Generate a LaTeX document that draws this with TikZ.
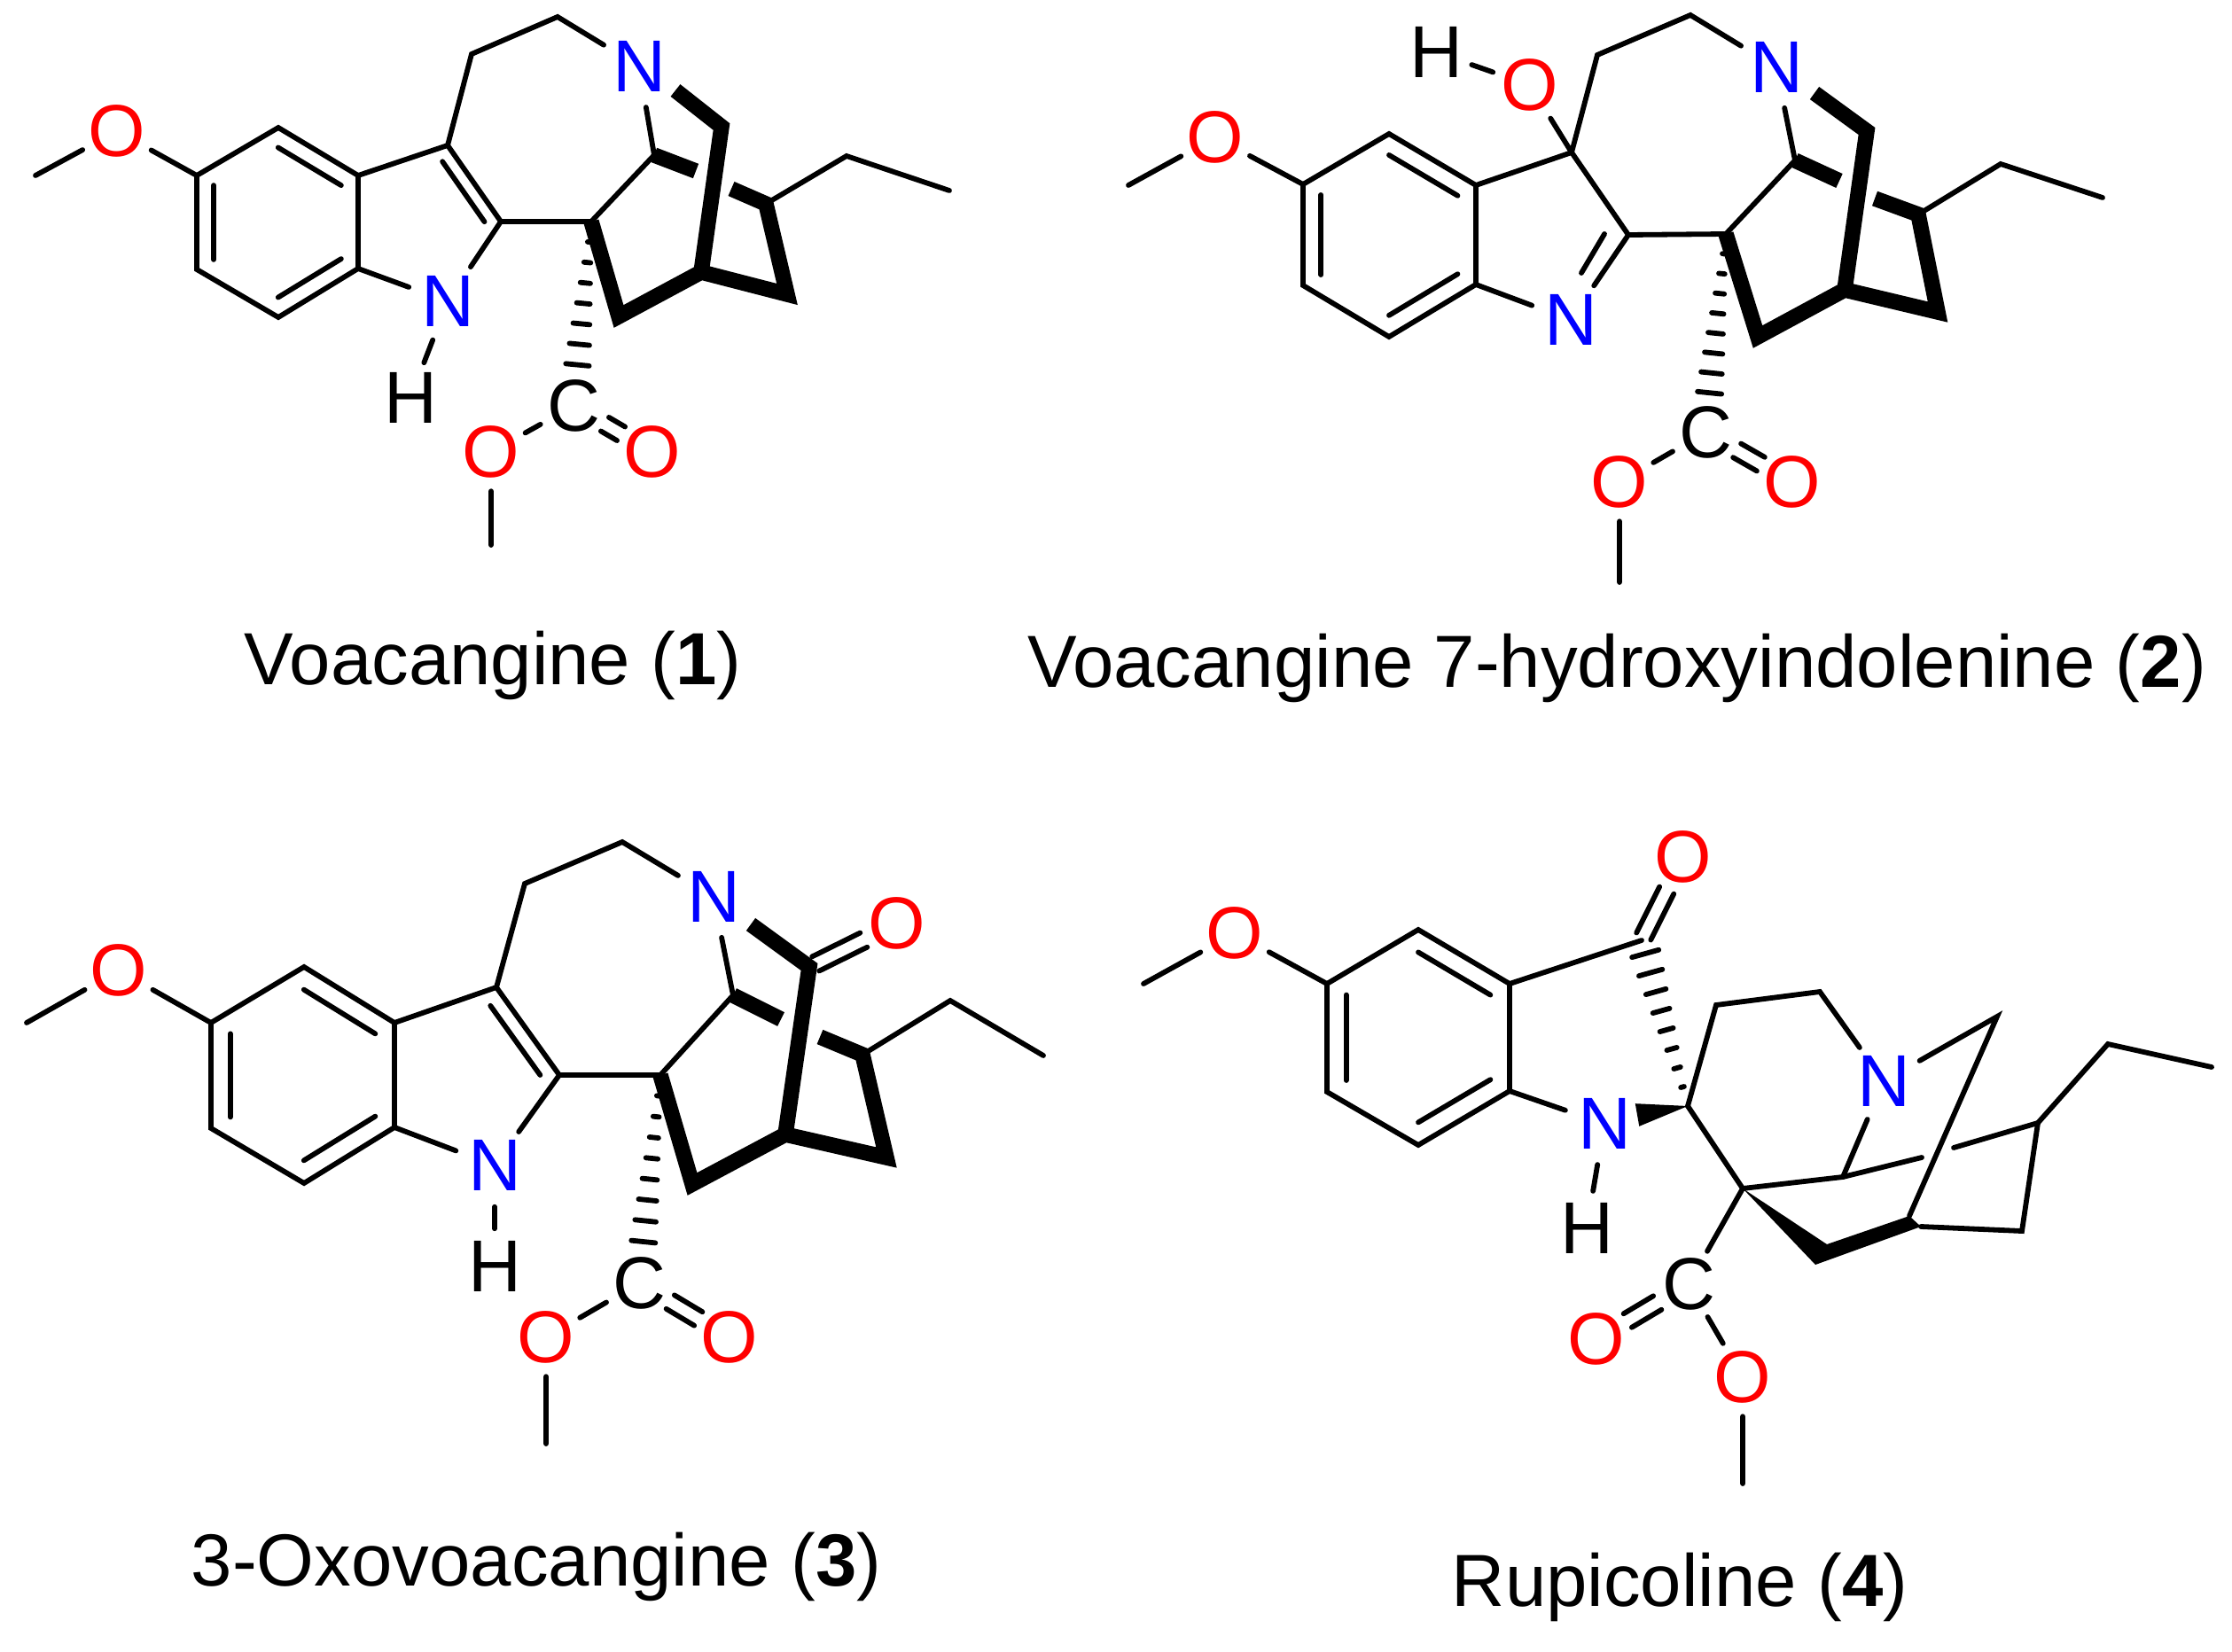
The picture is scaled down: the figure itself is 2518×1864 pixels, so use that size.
\documentclass[tikz,border=0pt]{standalone}
\usepackage{fontspec}
\setmainfont{Liberation Sans}
\usetikzlibrary{calc}
\tikzstyle{bond}=[
        line width = 0.058cm,
        line cap = round,
        line join = miter
    ]
\tikzstyle{bold bond}=[
    line width = 0.175cm,
    line cap = butt,
    line join = miter,
    miter limit = 20
]
\tikzstyle{atom}=[
    circle,
    inner sep = 0pt,
    font = \fontsize{23.6}{28}\selectfont
]
\tikzstyle{red atom}=[atom, text = red, minimum size = 0.84cm]
\tikzstyle{blue atom}=[atom, text = blue, minimum size = 0.92cm]
\tikzstyle{black atom}=[atom, text = black, minimum size = 0.84cm]
\tikzstyle{caption}=[
    anchor = base,
    inner sep = 0pt,
    font = \fontsize{23.7}{28}\selectfont
]
\newcommand{\innerbond}[3]{\draw[bond] ($(#1)!0.79!(#2)$) -- ($(#1)!0.79!(#3)$);}
\newcommand{\dblbond}[2]{
    \draw[bond, shorten <=0.41cm, shorten >=0.41cm] ($(#1)!0.09cm!90:(#2)$) -- ($(#2)!0.09cm!-90:(#1)$);
    \draw[bond, shorten <=0.41cm, shorten >=0.41cm] ($(#1)!0.09cm!-90:(#2)$) -- ($(#2)!0.09cm!90:(#1)$);
}
\newcommand{\wedgebond}[3]{\fill (#1) -- ($(#2)!#3!90:(#1)$) -- ($(#2)!#3!-90:(#1)$) -- cycle;}
\newcommand{\hashbond}[4]{
    \foreach \k in {1,...,#3} {
        \draw[bond] ($(#1)!{\k*#4}!(#2)!{\k*#4*0.17cm}!90:(#2)$) -- ($(#1)!{\k*#4}!(#2)!{\k*#4*0.17cm}!-90:(#2)$);
    }
}

\begin{document}
\begin{tikzpicture}[x=0.01cm, y=-0.01cm]
    \useasboundingbox (0,0) rectangle (2518,1864);

    % Voacangine
    \begin{scope}[name prefix=v-]
        \node[red atom] (o) at (132,148) {O};
        \node[blue atom] (n) at (505,340) {N};
        \node[black atom] (h) at (463,449) {H};
        \node[blue atom] (n2) at (721,75) {N};
        \node[black atom] (c) at (647,458) {C};
        \node[red atom] (o1) at (554,510) {O};
        \node[red atom] (o2) at (736,510) {O};
        \foreach \name/\pos in {me/{40,198}, a1/{222,198}, a2/{314,144}, a3/{404,198}, a4/{404,303},
            a5/{314,358}, a6/{222,304}, ring/{313,251}, five/{477,251}, c3/{505,164}, c2/{565,250},
            c5/{532,61}, c6/{629,19}, c21/{738,175}, c14/{667,250}, me2/{554,615}, low/{698,357},
            j/{791,307}, r/{888,332}, e/{864,230}, et1/{955,176}, et2/{1071,215}, top/{814,143},
            nb/{762,102}, g1/{785,193}, g2/{825,213}}
            \coordinate (\name) at (\pos);

        \draw[bond] (me) -- (o) -- (a1);
        \draw[bond] (a1) -- (a2) -- (a3) -- (a4) -- (a5) -- (a6) -- cycle;
        \draw[bond] (a3) -- (c3) -- (c2) -- (n) -- (a4);
        \draw[bond] (n) -- (h);
        \draw[bond] (c3) -- (c5) -- (c6) -- (n2) -- (c21) -- (c14) -- (c2);
        \draw[bond] (c) -- (o1) -- (me2);
        \draw[bond] (e) -- (et1) -- (et2);
        \innerbond{ring}{a1}{a6}
        \innerbond{ring}{a2}{a3}
        \innerbond{ring}{a4}{a5}
        \innerbond{five}{c3}{c2}
        \dblbond{c}{o2}
        \hashbond{c14}{c}{7}{0.111}
        \draw[bold bond] (c14) -- (low) -- (j) -- (r) -- (e) -- (g2);
        \draw[bold bond] (nb) -- (top) -- (j);
        \draw[bold bond] (c21) -- (g1);
        \node[caption] (name) at (556,772) {Voacangine (\textbf{1})};
    \end{scope}

    % Voacangine 7-hydroxyindolenine
    \begin{scope}[name prefix=h-]
        \node[red atom] (o) at (1371,155) {O};
        \node[blue atom] (n) at (1772,361) {N};
        \node[red atom] (oh) at (1726,96) {O};
        \node[black atom] (h) at (1620,59) {H};
        \node[blue atom] (n2) at (2004,76) {N};
        \node[black atom] (c) at (1924,488) {C};
        \node[red atom] (o1) at (1827,544) {O};
        \node[red atom] (o2) at (2022,544) {O};
        \foreach \name/\pos in {me/{1273,209}, a1/{1470,208}, a2/{1567,151}, a3/{1665,209}, a4/{1665,321},
            a5/{1567,380}, a6/{1470,322}, ring/{1567,265}, c7/{1773,172}, c2/{1837,265},
            db1/{1810,264}, db2/{1784,308}, c5/{1802,62}, c6/{1907,17}, c21/{2025,181}, c14/{1947,264},
            me2/{1827,657}, low/{1983,380}, j/{2081,327}, r/{2186,352}, e/{2164,242}, et1/{2257,185},
            et2/{2372,223}, top/{2106,148}, nb/{2047,105}, g1/{2075,204}, g2/{2115,224}}
            \coordinate (\name) at (\pos);

        \draw[bond] (me) -- (o) -- (a1);
        \draw[bond] (a1) -- (a2) -- (a3) -- (a4) -- (a5) -- (a6) -- cycle;
        \draw[bond] (a3) -- (c7) -- (c2) -- (n) -- (a4);
        \draw[bond] (db1) -- (db2);
        \draw[bond] (c7) -- (oh) -- (h);
        \draw[bond] (c7) -- (c5) -- (c6) -- (n2) -- (c21) -- (c14) -- (c2);
        \draw[bond] (c) -- (o1) -- (me2);
        \draw[bond] (e) -- (et1) -- (et2);
        \innerbond{ring}{a1}{a6}
        \innerbond{ring}{a2}{a3}
        \innerbond{ring}{a4}{a5}
        \dblbond{c}{o2}
        \hashbond{c14}{c}{8}{0.1}
        \draw[bold bond] (c14) -- (low) -- (j) -- (r) -- (e) -- (g2);
        \draw[bold bond] (nb) -- (top) -- (j);
        \draw[bold bond] (c21) -- (g1);
        \node[caption] (name) at (1824,775) {Voacangine 7-hydroxyindolenine (\textbf{2})};
    \end{scope}

    % 3-Oxovoacangine
    \begin{scope}[name prefix=x-]
        \node[red atom] (o) at (134,1095) {O};
        \node[blue atom] (n) at (558,1315) {N};
        \node[black atom] (h) at (558,1429) {H};
        \node[blue atom] (n2) at (805,1012) {N};
        \node[red atom] (o3) at (1012,1042) {O};
        \node[black atom] (c) at (721,1448) {C};
        \node[red atom] (o1) at (616,1509) {O};
        \node[red atom] (o2) at (823,1509) {O};
        \foreach \name/\pos in {me/{30,1154}, a1/{238,1154}, a2/{343,1091}, a3/{445,1154}, a4/{445,1272},
            a5/{343,1335}, a6/{238,1273}, ring/{342,1213}, five/{528,1213}, c3/{560,1114}, c2/{631,1213},
            c5/{592,997}, c6/{702,950}, c21/{827,1123}, c14/{745,1213}, me2/{616,1629}, low/{781,1336},
            j/{886,1280}, r/{1000,1306}, e/{973,1190}, et1/{1072,1129}, et2/{1177,1191}, top/{913,1091},
            nb/{847,1043}, g1/{881,1150}, g2/{925,1170}}
            \coordinate (\name) at (\pos);

        \draw[bond] (me) -- (o) -- (a1);
        \draw[bond] (a1) -- (a2) -- (a3) -- (a4) -- (a5) -- (a6) -- cycle;
        \draw[bond] (a3) -- (c3) -- (c2) -- (n) -- (a4);
        \draw[bond] (n) -- (h);
        \draw[bond] (c3) -- (c5) -- (c6) -- (n2) -- (c21) -- (c14) -- (c2);
        \draw[bond] (c) -- (o1) -- (me2);
        \draw[bond] (e) -- (et1) -- (et2);
        \innerbond{ring}{a1}{a6}
        \innerbond{ring}{a2}{a3}
        \innerbond{ring}{a4}{a5}
        \innerbond{five}{c3}{c2}
        \dblbond{c}{o2}
        \hashbond{c14}{c}{8}{0.1}
        \draw[bond, shorten <=0.08cm, shorten >=0.42cm] ($(top)!0.09cm!90:(o3)$) -- ($(o3)!0.09cm!-90:(top)$);
        \draw[bond, shorten <=0.08cm, shorten >=0.42cm] ($(top)!0.09cm!-90:(o3)$) -- ($(o3)!0.09cm!90:(top)$);
        \draw[bold bond] (c14) -- (low) -- (j) -- (r) -- (e) -- (g2);
        \draw[bold bond] (nb) -- (top) -- (j);
        \draw[bold bond] (c21) -- (g1);
        \node[caption] (name) at (605,1789) {3-Oxovoacangine (\textbf{3})};
    \end{scope}

    % Rupicoline
    \begin{scope}[name prefix=r-]
        \node[red atom] (o) at (1393,1053) {O};
        \node[red atom] (o3) at (1899,967) {O};
        \node[blue atom] (n) at (1810,1268) {N};
        \node[black atom] (h) at (1790,1386) {H};
        \node[blue atom] (n2) at (2125,1220) {N};
        \node[black atom] (c) at (1905,1449) {C};
        \node[red atom] (o1) at (1801,1511) {O};
        \node[red atom] (o2) at (1966,1554) {O};
        \foreach \name/\pos in {me/{1290,1110}, a1/{1497,1110}, a2/{1600,1049}, a3/{1703,1110}, a4/{1703,1231},
            a5/{1600,1292}, a6/{1497,1232}, ring/{1600,1170}, ket/{1852,1061}, spiro/{1904,1248},
            nw/{1847,1258}, c5/{1936,1134}, c6/{2053,1119}, cq/{1966,1341}, cm/{2079,1328}, g1/{2168,1306},
            g2/{2204,1295}, cy/{2299,1267}, et1/{2378,1178}, et2/{2495,1204}, cz/{2281,1389},
            br/{2253,1147}, j/{2154,1372}, j2/{2167,1384}, vo/{2048,1427}, vi/{2061,1404}, me2/{1966,1674}}
            \coordinate (\name) at (\pos);

        \draw[bond] (me) -- (o) -- (a1);
        \draw[bond] (a1) -- (a2) -- (a3) -- (a4) -- (a5) -- (a6) -- cycle;
        \draw[bond] (a3) -- (ket);
        \draw[bond] (a4) -- (n) -- (h);
        \draw[bond] (spiro) -- (c5) -- (c6) -- (n2) -- (br) -- (j);
        \draw[bond] (spiro) -- (cq) -- (cm) -- (g1);
        \draw[bond] (n2) -- (cm);
        \draw[bond] (g2) -- (cy) -- (cz) -- (j2);
        \draw[bond] (cy) -- (et1) -- (et2);
        \draw[bond] (cq) -- (c);
        \draw[bond] (c) -- (o2) -- (me2);
        \innerbond{ring}{a1}{a6}
        \innerbond{ring}{a2}{a3}
        \innerbond{ring}{a4}{a5}
        \dblbond{c}{o1}
        \draw[bond, shorten <=0.05cm, shorten >=0.42cm] ($(ket)!0.09cm!90:(o3)$) -- ($(o3)!0.09cm!-90:(ket)$);
        \draw[bond, shorten <=0.05cm, shorten >=0.42cm] ($(ket)!0.09cm!-90:(o3)$) -- ($(o3)!0.09cm!90:(ket)$);
        \hashbond{spiro}{ket}{8}{0.115}
        \wedgebond{spiro}{nw}{0.13cm}
        \fill (cq) -- (vo) -- (j2) -- (j) -- (vi) -- cycle;
        \node[caption] (name) at (1895,1812) {Rupicoline (\textbf{4})};
    \end{scope}
\end{tikzpicture}
\end{document}
